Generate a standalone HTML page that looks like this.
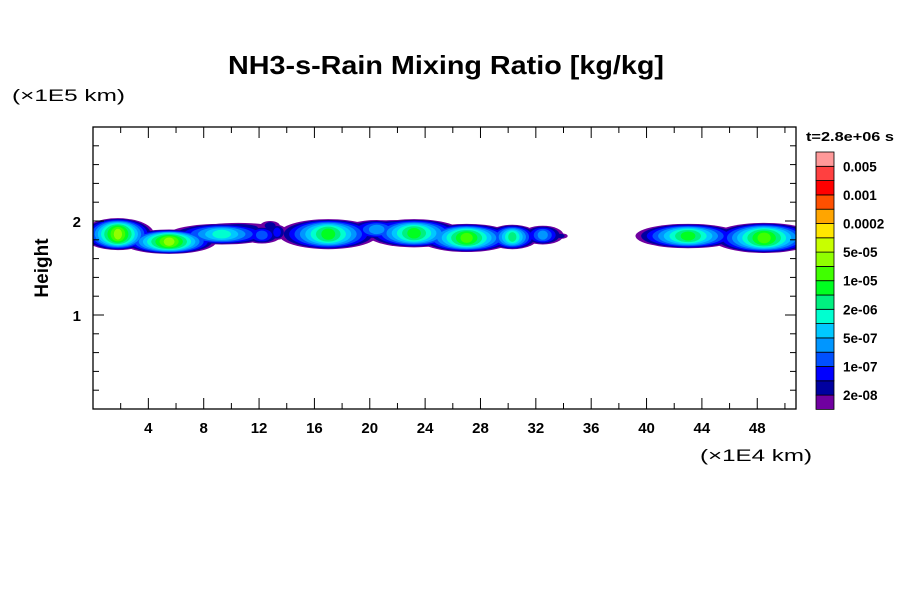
<!DOCTYPE html>
<html><head><meta charset="utf-8"><style>
body{margin:0;background:#fff;font-family:"Liberation Sans",sans-serif}
svg text{font-family:"Liberation Sans",sans-serif}
</style></head><body>
<svg id="chart" width="900" height="600" viewBox="0 0 900 600">
<text x="228" y="74" textLength="436" lengthAdjust="spacingAndGlyphs" font-size="26" font-weight="bold">NH3-s-Rain Mixing Ratio [kg/kg]</text>
<text x="12" y="101" textLength="113" lengthAdjust="spacingAndGlyphs" font-size="17">(×1E5 km)</text>
<text x="700" y="461" textLength="112" lengthAdjust="spacingAndGlyphs" font-size="17">(×1E4 km)</text>
<text x="48" y="268" font-size="19" font-weight="bold" text-anchor="middle" transform="rotate(-90 48 268)">Height</text>
<text x="806" y="141" textLength="88" lengthAdjust="spacingAndGlyphs" font-size="13" font-weight="bold">t=2.8e+06 s</text>
<defs><clipPath id="pc"><rect x="93" y="127" width="703" height="282"/></clipPath></defs>
<g id="field" clip-path="url(#pc)"></g>
<g id="axes"></g>
<g id="cbar"></g>
</svg>
<script>
const colors=["#7000a0","#0000a0","#0000ff","#0050ff","#0096ff","#00c8ff","#00ffd0","#00f080","#00ff20","#40ff00","#90ff00","#c8ff00","#ffe600","#ffa500","#ff5000","#ff0000","#ff4040","#ff9999"];
const cbarLabels=["2e-08","1e-07","5e-07","2e-06","1e-05","5e-05","0.0002","0.001","0.005"];
const xTicks=[4,8,12,16,20,24,28,32,36,40,44,48];
const yTicks=[1,2];
// blobs: center x, center y, x radius, y radius, peak level
const blobX=[1.8,5.5,9.3,12.2,13.3,17,20.5,23.2,27,30.3,32.5,33.8,43,48.5,40.8,12.8,10.5,22];
const blobY=[1.86,1.78,1.86,1.85,1.88,1.86,1.91,1.87,1.82,1.83,1.85,1.84,1.84,1.82,1.86,1.95,1.93,1.95];
const blobRX=[2.6,3.4,3.8,1.4,0.7,3.6,2.3,3.5,3.5,1.9,1.5,0.5,3.8,3.8,0.9,0.7,2.5,3];
const blobRY=[0.17,0.13,0.11,0.09,0.08,0.16,0.1,0.15,0.15,0.13,0.1,0.03,0.13,0.16,0.05,0.05,0.05,0.06];
const blobPeak=[10,10,6,3,2,8,4,8,9,7,4,1,8,9,1,1,1,2];
const X0=93,X1=796,Y0=409,Y1=127,XMAX=50.8,YMAX=3.0;
const sx=v=>X0+v/XMAX*(X1-X0), sy=v=>Y0-v/YMAX*(Y0-Y1);
const NS="http://www.w3.org/2000/svg";
function mk(t,a,p){const e=document.createElementNS(NS,t);for(const k in a)e.setAttribute(k,a[k]);p.appendChild(e);return e;}
const field=document.getElementById('field');
for(let lv=0;lv<=12;lv++){
  for(let i=0;i<blobX.length;i++){
    if(lv>blobPeak[i])continue;
    const f=1-lv/(blobPeak[i]+1.3);
    const e=mk('ellipse',{cx:sx(blobX[i]),cy:sy(blobY[i]),rx:Math.abs(sx(blobRX[i]*f)-sx(0)),ry:Math.abs(sy(blobRY[i]*Math.sqrt(f))-sy(0)),fill:colors[lv]},field);
    
    
  }
}
const ax=document.getElementById('axes');
const fr=mk('rect',{x:X0,y:Y1,width:X1-X0,height:Y0-Y1,fill:'none',stroke:'#000','stroke-width':1.3},ax);


for(let v=2;v<XMAX;v+=2){const x=sx(v),L=(v%4==0)?11:6;
  mk('line',{x1:x,x2:x,y1:Y0,y2:Y0-L,stroke:'#000'},ax);mk('line',{x1:x,x2:x,y1:Y1,y2:Y1+L,stroke:'#000'},ax);}
for(let k=1;k<15;k++){const v=k*0.2,y=sy(v),L=(k%5==0)?11:6;
  mk('line',{x1:X0,x2:X0+L,y1:y,y2:y,stroke:'#000'},ax);mk('line',{x1:X1,x2:X1-L,y1:y,y2:y,stroke:'#000'},ax);}
xTicks.forEach(v=>{const t=mk('text',{x:sx(v),y:433,'text-anchor':'middle','font-size':15,'font-weight':'bold'},ax);t.textContent=v;
  
  });
yTicks.forEach(v=>{const t=mk('text',{x:81,y:sy(v)+6,'text-anchor':'end','font-size':15,'font-weight':'bold'},ax);t.textContent=v;
  
  });
const cb=document.getElementById('cbar');
const CX=816,CW=18,CT=152,CH=14.3;
for(let i=0;i<colors.length;i++){const y=CT+(colors.length-1-i)*CH;
  const r=mk('rect',{x:CX,y:y,width:CW,height:CH,fill:colors[i],stroke:'#000','stroke-width':0.8},cb);
  
  }
cbarLabels.forEach((s,j)=>{const k=cbarLabels.length-1-j;const y=CT+(2*k+1)*CH;
  const t=mk('text',{x:843,y:y+5,'font-size':13.5,'font-weight':'bold'},cb);t.textContent=s;
  
  });
</script>
</body></html>
